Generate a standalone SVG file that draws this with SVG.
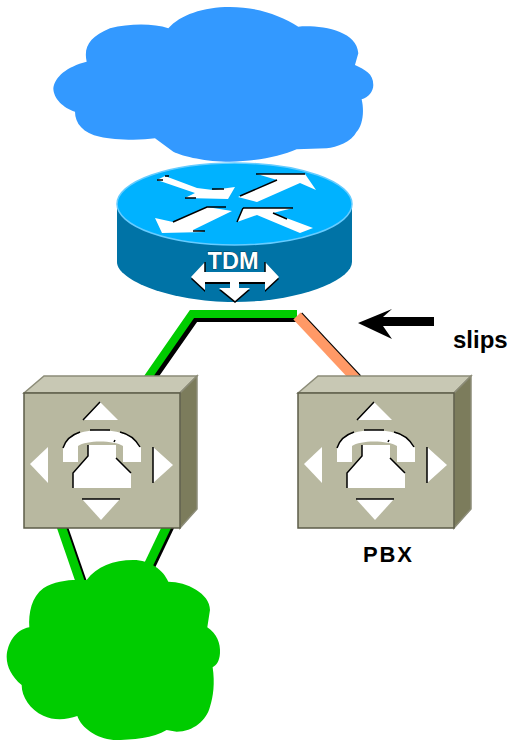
<svg xmlns="http://www.w3.org/2000/svg" width="510" height="740" viewBox="0 0 510 740">
<style>
.front{fill:#b8b8a0;stroke:#5c5c48;stroke-width:1.5}
.top{fill:#c8c8b4;stroke:#8c8c78;stroke-width:1.5}
.side{fill:#7c7c5c;stroke:#8c8c78;stroke-width:1.5}
.glyph{fill:#fff}
.edge{fill:none;stroke:#000;stroke-width:1.5}
.ln{fill:none;stroke-linejoin:miter}
.lbl{font-family:"Liberation Sans",Arial,sans-serif;font-weight:bold;fill:#000}
</style>
<defs>
<g id="phone">
<path class="glyph" d="M76 0L59 18H94Z"/>
<path class="glyph" d="M58 97H96L77 118Z"/>
<path class="glyph" d="M6 62L24 45V81Z"/>
<path class="glyph" d="M149 63L129 45V81Z"/>
<path class="glyph" d="M39 46C42 34 58 28 76 28C94 28 112 34 117 46V60H99V44C90 38 62 38 54 44V60H39Z"/>
<path class="glyph" d="M64 43H92V56L107 71V86H49V71L64 54Z"/>
<path class="edge" d="M59 18L76 0M58 97H96M129 45V81M64 43V54L49 71V86M92 56L107 71M39 46C42 36 50 32 56 30M66 28H86M96 30C105 32 112 38 116 45M91 38L90 40" stroke-width="1.200"/>
</g>
<path id="tdm-arrow" d="M191 277L205 262V272H265V262L279 277L265 290V282H239V288H250L235 301L219 288H230V282H205V290Z"/>
</defs>
<g id="connectors">
<path class="ln" d="M153 378L195 318H296" stroke="#000" stroke-width="8"/>
<path class="ln" d="M147.500 378L192 314H297" stroke="#00cc00" stroke-width="8"/>
<path class="ln" d="M298.500 316L357.500 379" stroke="#000" stroke-width="10"/>
<path class="ln" d="M297 316L356 379" stroke="#ff9966" stroke-width="10"/>
<path class="ln" d="M63 526L83 584" stroke="#000" stroke-width="9"/>
<path class="ln" d="M61 526L81 584" stroke="#00cc00" stroke-width="9"/>
<path class="ln" d="M170 526L149 570" stroke="#000" stroke-width="9"/>
<path class="ln" d="M167 526L146 570" stroke="#00cc00" stroke-width="9"/>
</g>
<g id="cloud-top">
<path fill="#3399ff" transform="translate(40 10) scale(.3333)" d="M385 55C420 15 490 -9 570 -9C650 -9 720 15 775 50C840 45 950 60 955 130L945 165C975 180 1000 190 1000 225C1000 245 985 262 965 268C975 310 965 350 950 365C935 395 890 412 860 415L770 418C720 440 640 455 570 455C500 455 430 440 400 425L345 385C300 392 220 390 180 380C130 370 105 340 105 305C70 295 40 265 40 235C45 200 80 170 140 155C130 110 150 80 210 55C270 40 340 40 385 55Z"/>
</g>
<g id="router">
<path fill="#0073a6" d="M117 204H352V262C352 280 300 302 234 302C170 302 117 280 117 262Z"/>
<ellipse cx="234.500" cy="204" rx="117.500" ry="41" fill="#00b2ff" stroke="#66ccff" stroke-width="1.500"/>
<path class="glyph" d="M157 180L165 176L197 188L213 190L235 187L228 199L185 198L195 193Z"/>
<path class="glyph" d="M238 197L277 180L257 174H305L316 190L300 183L257 202Z"/>
<path class="glyph" d="M155 218L173 222L207 207L232 211L193 230L205 232L162 233Z"/>
<path class="glyph" d="M237 222L243 208H293L273 213L313 228L300 233L257 215Z"/>
<path class="edge" d="M157 180H163M165 176H169M212 189H224M185 198H196M240 196L277 180M256 174H305M173 222L207 207H226M243 208H293M237 222L243 208M273 213L287 219M193 231H205"/>
<use href="#tdm-arrow" fill="#000" y="2"/>
<use href="#tdm-arrow" fill="#fff"/>
<path class="edge" d="M205 262V272M265 262V272"/>
<text x="233" y="269" textLength="51" lengthAdjust="spacingAndGlyphs" font-family="Liberation Sans, Arial, sans-serif" font-weight="bold" font-size="23" text-anchor="middle" fill="#fff" stroke="#000" stroke-width="0.500" paint-order="stroke">TDM</text>
</g>
<g id="pbx-left">
<path class="top" d="M24 393L44 376H197L180 393Z"/>
<path class="side" d="M180 393L197 376V509L180 528Z"/>
<rect class="front" x="24" y="393" width="156" height="135"/>
<use href="#phone" x="24" y="402"/>
</g>
<g id="pbx-right">
<path class="top" d="M298 393L318 376H471L454 393Z"/>
<path class="side" d="M454 393L471 376V509L454 528Z"/>
<rect class="front" x="298" y="393" width="156" height="135"/>
<use href="#phone" x="298" y="402"/>
</g>
<g id="cloud-bottom">
<path fill="#00cc00" transform="translate(0 550) scale(.3333)" d="M260 90C290 50 340 30 400 30C450 30 490 60 505 95C560 95 630 130 630 180L622 232C650 250 662 280 660 310C658 335 650 345 638 352C645 400 640 440 630 470C620 510 580 545 530 545L500 540C460 565 400 570 340 570C290 565 245 535 232 498C200 510 160 512 130 497C90 480 65 440 65 405C35 380 20 350 20 320C22 280 45 240 88 232C85 190 95 140 130 115C160 95 200 90 230 90Z"/>
</g>
<g id="slips-arrow">
<path d="M358 323L392 309L383 317H434V326H383L392 339Z" fill="#000"/>
<text class="lbl" x="453" y="348" font-size="24">slips</text>
</g>
<g id="pbx-label">
<text class="lbl" x="363" y="562" font-size="22" letter-spacing="1.800">PBX</text>
</g>
</svg>
